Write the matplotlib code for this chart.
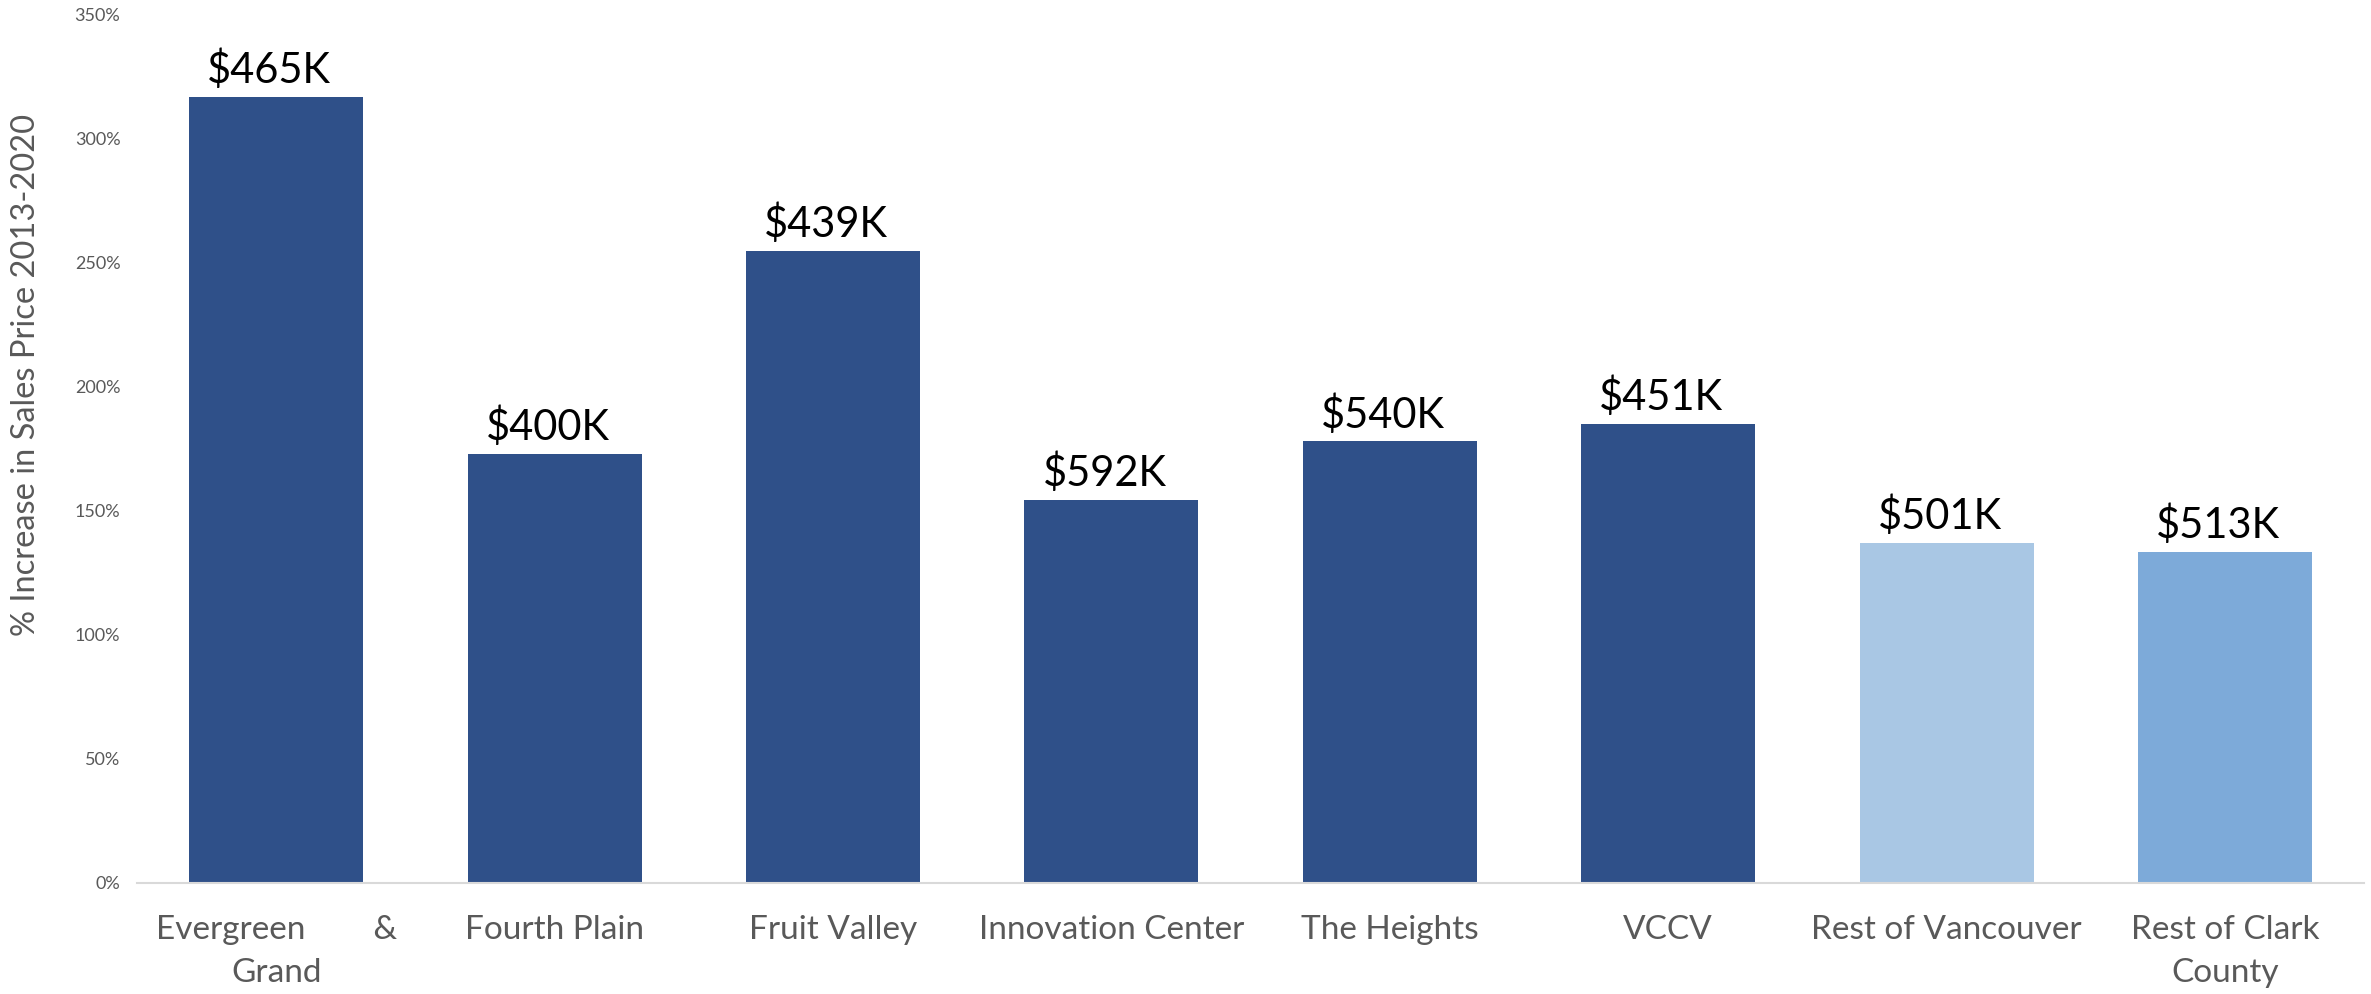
import matplotlib
matplotlib.use("Agg")
import matplotlib.pyplot as plt
from matplotlib.ticker import FuncFormatter

plt.rcParams['font.family'] = ['Lato', 'DejaVu Sans']

# data
areas = ["Evergreen        &\nGrand", "Fourth Plain", "Fruit Valley", "Innovation Center",
         "The Heights", "VCCV", "Rest of Vancouver", "Rest of Clark\nCounty"]
pct_increase = [3.17, 1.73, 2.55, 1.545, 1.78, 1.85, 1.37, 1.335]
median_price = ["$465K", "$400K", "$439K", "$592K", "$540K", "$451K", "$501K", "$513K"]
bar_colors = ["#2F5089"] * 6 + ["#A9C7E4", "#7DAAD9"]

fig = plt.figure(figsize=(23.71, 9.94), dpi=100)
ax = fig.add_axes([0.0578, 0.1117, 0.9393, 0.8733])

x = list(range(len(areas)))
bars = ax.bar(x, pct_increase, width=0.625, color=bar_colors, zorder=2)

for b, lab in zip(bars, median_price):
    ax.annotate(lab, (b.get_x() + b.get_width() / 2, b.get_height()),
                xytext=(-5, 5), textcoords="offset points",
                ha="center", va="bottom", fontsize=30, color="black")

ax.set_xlim(-0.5, len(areas) - 0.5)
ax.set_ylim(0, 3.5)
ax.set_yticks([i * 0.5 for i in range(8)])
ax.yaxis.set_major_formatter(FuncFormatter(lambda v, p: f"{v * 100:.0f}%"))
ax.set_xticks(x)
ax.set_xticklabels(areas, fontsize=24, color="#595959", linespacing=1.55)
ax.tick_params(axis="y", labelsize=13, colors="#595959", length=0, pad=12)
ax.tick_params(axis="x", length=0, pad=23)

ax.set_ylabel("% Increase in Sales Price 2013-2020", fontsize=23.5, color="#595959")
ax.yaxis.set_label_coords(-0.043, 0.585)

for s in ["top", "right", "left"]:
    ax.spines[s].set_visible(False)
ax.spines["bottom"].set_color("#D9D9D9")
ax.spines["bottom"].set_linewidth(1.5)

fig.savefig("out.png", dpi=100)
